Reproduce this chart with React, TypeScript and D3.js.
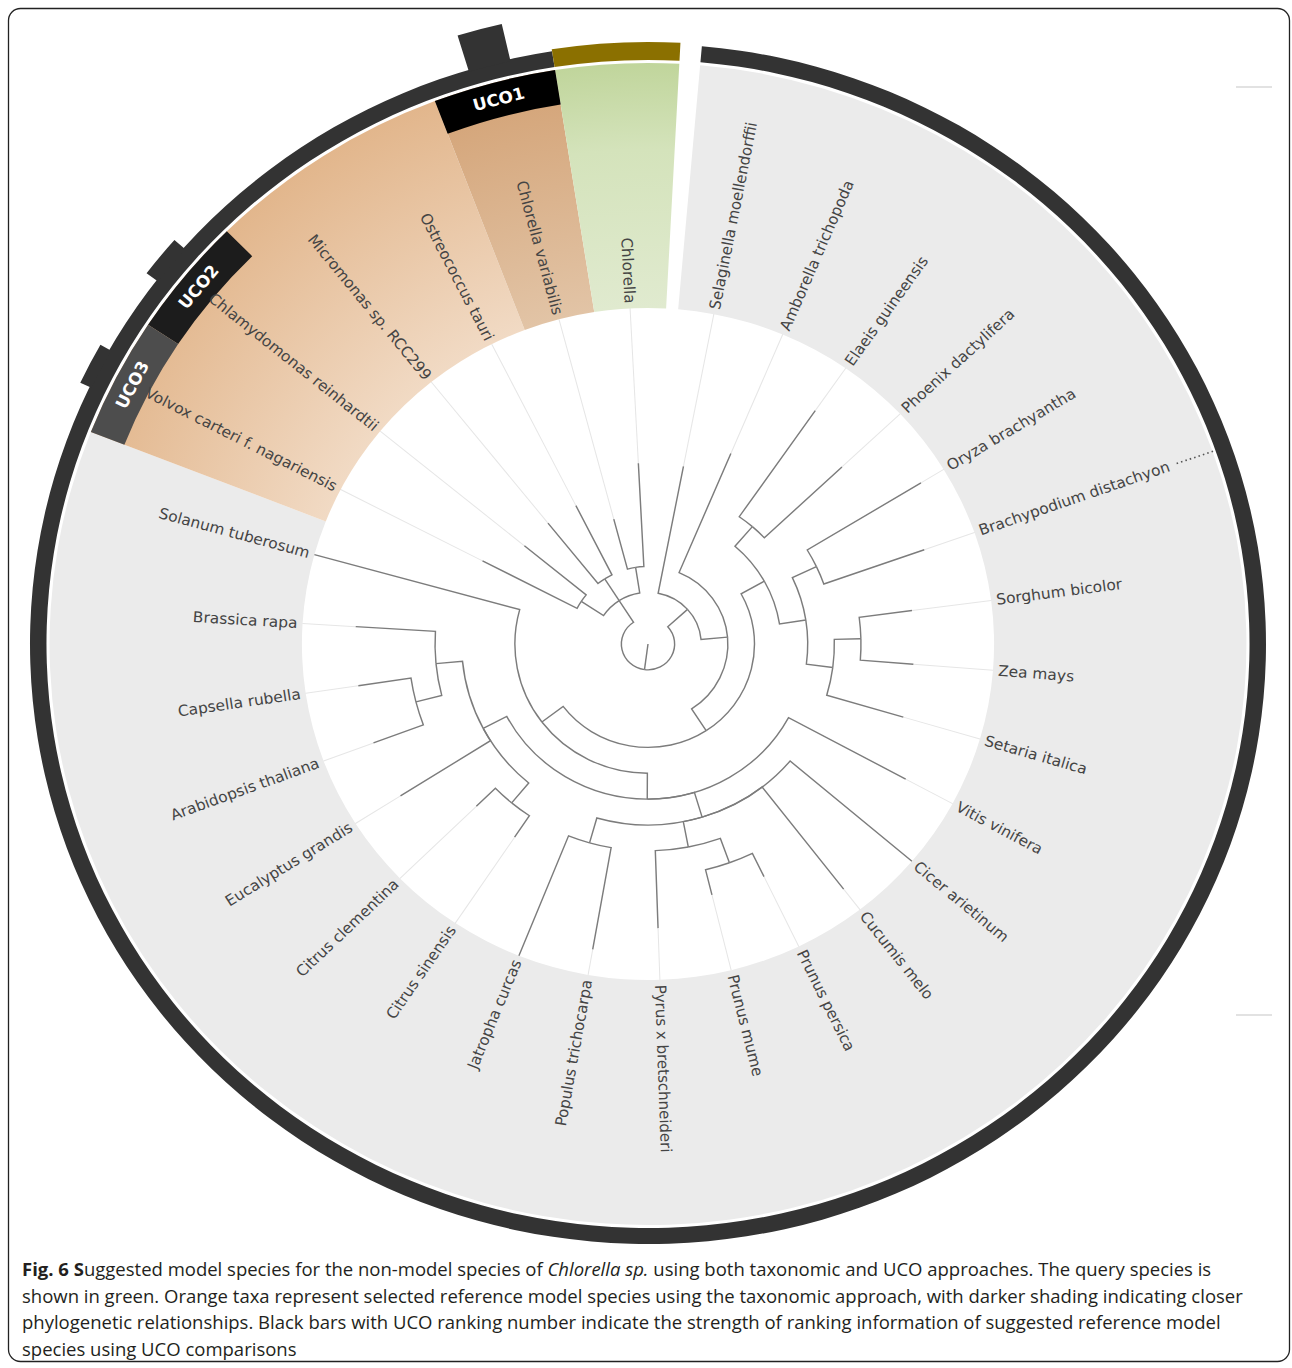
import React from "react";
import * as d3 from "d3";

// [taxon, parent, taxonomic depth] in clockwise order
const taxa: [string, string, number][] = [
  ["root", "", 0],
  ["Viridiplantae", "root", 1],
  ["Streptophyta", "Viridiplantae", 2],
  ["Selaginella moellendorffii", "Streptophyta", 7],
  ["Spermatophyta", "Streptophyta", 3],
  ["Amborella trichopoda", "Spermatophyta", 8],
  ["Mesangiospermae", "Spermatophyta", 4],
  ["commelinids", "Mesangiospermae", 5],
  ["Arecaceae", "commelinids", 6],
  ["Elaeis guineensis", "Arecaceae", 11],
  ["Phoenix dactylifera", "Arecaceae", 10],
  ["Poaceae", "commelinids", 6],
  ["BOP clade", "Poaceae", 7],
  ["Oryza brachyantha", "BOP clade", 12],
  ["Brachypodium distachyon", "BOP clade", 11],
  ["PACMAD clade", "Poaceae", 7],
  ["Andropogoneae", "PACMAD clade", 8],
  ["Sorghum bicolor", "Andropogoneae", 10],
  ["Zea mays", "Andropogoneae", 10],
  ["Setaria italica", "PACMAD clade", 10],
  ["eudicotyledons", "Mesangiospermae", 5],
  ["Pentapetalae", "eudicotyledons", 6],
  ["Vitis vinifera", "Pentapetalae", 11],
  ["fabids", "Pentapetalae", 7],
  ["Cicer arietinum", "fabids", 13],
  ["Cucumis melo", "fabids", 12],
  ["Rosaceae", "fabids", 8],
  ["Prunus", "Rosaceae", 9],
  ["Prunus persica", "Prunus", 10],
  ["Prunus mume", "Prunus", 10],
  ["Pyrus x bretschneideri", "Rosaceae", 11],
  ["Malpighiales", "fabids", 8],
  ["Populus trichocarpa", "Malpighiales", 12],
  ["Jatropha curcas", "Malpighiales", 13],
  ["malvids", "Pentapetalae", 7],
  ["Citrus", "malvids", 8],
  ["Citrus sinensis", "Citrus", 9],
  ["Citrus clementina", "Citrus", 9],
  ["Eucalyptus grandis", "malvids", 11],
  ["Brassicaceae", "malvids", 8],
  ["Camelineae", "Brassicaceae", 9],
  ["Arabidopsis thaliana", "Camelineae", 11],
  ["Capsella rubella", "Camelineae", 11],
  ["Brassica rapa", "Brassicaceae", 11],
  ["Solanum tuberosum", "eudicotyledons", 13],
  ["Chlorophyta", "Viridiplantae", 2],
  ["Chlamydomonadales", "Chlorophyta", 3],
  ["Volvox carteri f. nagariensis", "Chlamydomonadales", 7],
  ["Chlamydomonas reinhardtii", "Chlamydomonadales", 6],
  ["Mamiellales", "Chlorophyta", 3],
  ["Micromonas sp. RCC299", "Mamiellales", 6],
  ["Ostreococcus tauri", "Mamiellales", 6],
  ["Trebouxiophyceae", "Chlorophyta", 3],
  ["Chlorella variabilis", "Trebouxiophyceae", 5],
  ["Chlorella", "Trebouxiophyceae", 7],
];

const querySpecies = ["Chlorella"];
const closestRefs = ["Chlorella variabilis"];
const taxonomicRefs = [
  "Ostreococcus tauri",
  "Micromonas sp. RCC299",
  "Chlamydomonas reinhardtii",
  "Volvox carteri f. nagariensis",
];

const ucoRanks = ["UCO1", "UCO2", "UCO3"];
const ucoSpecies = ["Chlorella variabilis", "Chlamydomonas reinhardtii", "Volvox carteri f. nagariensis"];
const ucoStrength = [37, 13, 11];

const CX = 648;
const CY = 644;
const SX = 1.03; // the figure is a little wider than tall
const R = 336; // label radius
const maxDepth = 13;
const startDeg = 5;
const spanDeg = 358;

const sectorColor: Record<string, string> = {
  other: "#ebebeb",
  ref: "url(#gOrange)",
  closest: "url(#gOrangeDark)",
  query: "url(#gGreen)",
};
const ucoFill = ["#000000", "#1c1c1c", "#4d4d4d"];

function linkStep(a0: number, r0: number, a1: number, r1: number) {
  const t0 = ((a0 - 90) / 180) * Math.PI;
  const t1 = ((a1 - 90) / 180) * Math.PI;
  const c0 = Math.cos(t0), s0 = Math.sin(t0);
  const c1 = Math.cos(t1), s1 = Math.sin(t1);
  return (
    "M" + r0 * c0 + "," + r0 * s0 +
    (a1 === a0 ? "" : "A" + r0 + "," + r0 + " 0 0 " + (a1 > a0 ? 1 : 0) + " " + r0 * c1 + "," + r0 * s1) +
    "L" + r1 * c1 + "," + r1 * s1
  );
}

const rad = (deg: number) => (deg * Math.PI) / 180;

export default function App() {
  const rScale = d3.scaleLinear().domain([0, maxDepth]).range([0, R]);

  const root: any = d3
    .stratify<[string, string, number]>()
    .id((d) => d[0])
    .parentId((d) => (d[1] === "" ? null : d[1]))(taxa);

  d3.cluster().size([spanDeg, 1]).separation(() => 1)(root);
  // parent sits midway between its outer children
  root.eachAfter((n: any) => {
    if (n.children) n.x = (n.children[0].x + n.children[n.children.length - 1].x) / 2;
  });
  root.each((n: any) => {
    n.x += startDeg;
    n.r = rScale(n.data[2]);
  });

  const leaves: any[] = root.leaves();
  const step = spanDeg / leaves.length;
  const byName: Record<string, any> = {};
  leaves.forEach((l) => (byName[l.id] = l));

  const cls = (id: string) =>
    querySpecies.includes(id) ? "query" : closestRefs.includes(id) ? "closest" : taxonomicRefs.includes(id) ? "ref" : "other";

  // merge consecutive leaves of the same class into one sector
  const runs: { c: string; a0: number; a1: number }[] = [];
  leaves.forEach((l) => {
    const c = cls(l.id);
    const a0 = l.x - step / 2, a1 = l.x + step / 2;
    const last = runs[runs.length - 1];
    if (last && last.c === c) last.a1 = a1;
    else runs.push({ c, a0, a1 });
  });

  const arc = d3.arc<any>();
  const nonQuery = leaves.filter((l) => !querySpecies.includes(l.id));
  const ringA0 = d3.min(nonQuery, (l) => l.x - step / 2) as number;
  const ringA1 = d3.max(nonQuery, (l) => l.x + step / 2) as number;
  const q = byName[querySpecies[0]];

  const brachy = byName["Brachypodium distachyon"];

  return (
    <svg
      width={1292}
      height={1368}
      style={{ position: "absolute", left: 0, top: 0, background: "#fff" }}
      fontFamily="'DejaVu Sans', Verdana, sans-serif"
    >
      <defs>
        <radialGradient id="gOrange" gradientUnits="userSpaceOnUse" cx={0} cy={0} r={582}>
          <stop offset={R / 582} stopColor="#f1dac4" />
          <stop offset={1} stopColor="#e2b68c" />
        </radialGradient>
        <radialGradient id="gOrangeDark" gradientUnits="userSpaceOnUse" cx={0} cy={0} r={582}>
          <stop offset={R / 582} stopColor="#e2c4a6" />
          <stop offset={1} stopColor="#d3a275" />
        </radialGradient>
        <radialGradient id="gGreen" gradientUnits="userSpaceOnUse" cx={0} cy={0} r={582}>
          <stop offset={R / 582} stopColor="#e0eacf" />
          <stop offset={0.85} stopColor="#d4e3bb" />
          <stop offset={1} stopColor="#c0d59b" />
        </radialGradient>
      </defs>

      <rect x={8.5} y={8.5} width={1281} height={1353} rx={12} fill="none" stroke="#222" strokeWidth={1.3} />

      <line x1={1236} x2={1272} y1={87} y2={87} stroke="#d8d8d8" strokeWidth={1.5} />
      <line x1={1236} x2={1272} y1={1015} y2={1015} stroke="#d8d8d8" strokeWidth={1.5} />

      <g transform={`translate(${CX},${CY}) scale(${SX},1)`}>
        {runs.map((s, i) => (
          <path
            key={"s" + i}
            d={arc({ innerRadius: R, outerRadius: 581, startAngle: rad(s.a0), endAngle: rad(s.a1) }) as string}
            fill={sectorColor[s.c]}
          />
        ))}

        <path
          d={arc({ innerRadius: 584, outerRadius: 600, startAngle: rad(ringA0), endAngle: rad(ringA1) }) as string}
          fill="#333"
        />
        <path
          d={arc({ innerRadius: 584, outerRadius: 602, startAngle: rad(q.x - step / 2), endAngle: rad(q.x + step / 2) }) as string}
          fill="#8b7000"
        />

        {ucoSpecies.map((sp, i) => {
          const l = byName[sp];
          return (
            <g key={"u" + i}>
              <path
                d={arc({ innerRadius: 546, outerRadius: 581, startAngle: rad(l.x - step / 2), endAngle: rad(l.x + step / 2) }) as string}
                fill={ucoFill[i]}
              />
              <path
                d={arc({ innerRadius: 598, outerRadius: 599 + ucoStrength[i], startAngle: rad(l.x - 2), endAngle: rad(l.x + 2) }) as string}
                fill="#333"
              />
              <text
                transform={`rotate(${l.x}) translate(0,${-564})`}
                textAnchor="middle"
                dy="0.36em"
                fill="#fff"
                fontWeight="bold"
                fontSize={16.5}
              >
                {ucoRanks[i]}
              </text>
            </g>
          );
        })}

        {leaves
          .filter((l) => l.r < R)
          .map((l) => (
            <path key={"e" + l.id} d={linkStep(l.x, l.r, l.x, R)} fill="none" stroke="#000" strokeOpacity={0.1} strokeWidth={1} />
          ))}

        {root.links().map((k: any, i: number) => (
          <path
            key={"l" + i}
            d={linkStep(k.source.x, k.source.r, k.target.x, k.target.r)}
            fill="none"
            stroke="#7c7c7c"
            strokeWidth={1.4}
          />
        ))}

        {leaves.map((l) => (
          <text
            key={"t" + l.id}
            transform={`rotate(${l.x - 90}) translate(${R + 5},0)${l.x < 180 ? "" : " rotate(180)"}`}
            textAnchor={l.x < 180 ? "start" : "end"}
            dy="0.33em"
            fontSize={15}
            fill="#444"
          >
            {l.id}
          </text>
        ))}

        <path
          d={linkStep(brachy.x, 544, brachy.x, 582)}
          fill="none"
          stroke="#555"
          strokeWidth={1.6}
          strokeDasharray="1.5,3"
        />
      </g>

      <text x={22} fontFamily="'Open Sans', sans-serif" fontSize={18.5} fill="#231f20">
        <tspan x={22} y={1276}>
          <tspan fontWeight="bold">Fig. 6 S</tspan>
          <tspan>uggested model species for the non-model species of </tspan>
          <tspan fontStyle="italic">Chlorella sp.</tspan>
          <tspan> using both taxonomic and UCO approaches. The query species is</tspan>
        </tspan>
        <tspan x={22} y={1302.5}>
          shown in green. Orange taxa represent selected reference model species using the taxonomic approach, with darker shading indicating closer
        </tspan>
        <tspan x={22} y={1329}>
          phylogenetic relationships. Black bars with UCO ranking number indicate the strength of ranking information of suggested reference model
        </tspan>
        <tspan x={22} y={1355.5}>
          species using UCO comparisons
        </tspan>
      </text>
    </svg>
  );
}
